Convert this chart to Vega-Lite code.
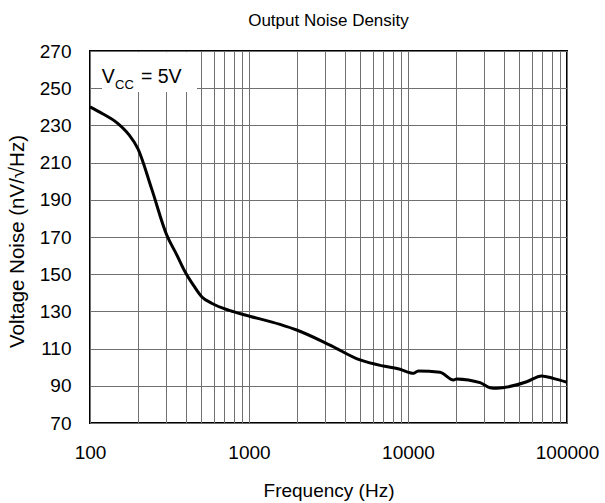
{
  "$schema": "https://vega.github.io/schema/vega-lite/v6.json",
  "width": 477,
  "height": 372,
  "autosize": {"type": "none"},
  "padding": {"left": 90, "top": 51, "right": 38, "bottom": 80},
  "background": "white",
  "title": {"text": "Output Noise Density", "font": "Liberation Sans", "fontSize": 17, "fontWeight": "normal", "color": "black", "offset": 12, "anchor": "middle"},
  "config": {
    "view": {"stroke": "black", "strokeWidth": 2},
    "axis": {"labelFont": "Liberation Sans", "titleFont": "Liberation Sans", "labelColor": "black", "titleColor": "black", "titleFontWeight": "normal", "labelFontSize": 19, "titleFontSize": 19, "domain": false, "ticks": false, "grid": true, "gridColor": "#707070", "gridWidth": 1, "gridOpacity": 1}
  },
  "encoding": {
    "x": {"field": "f", "type": "quantitative",
      "scale": {"type": "log", "domain": [100, 100000], "nice": false},
      "axis": {"title": "Frequency (Hz)", "titleX": 238.5, "titleY": 67, "titleBaseline": "middle",
        "values": [100,200,300,400,500,600,700,800,900,1000,2000,3000,4000,5000,6000,7000,8000,9000,10000,20000,30000,40000,50000,60000,70000,80000,90000,100000],
        "labelExpr": "indexof([100,1000,10000,100000], datum.value) >= 0 ? format(datum.value, 'd') : ''",
        "labelOverlap": false, "labelBound": false, "labelFlush": false, "labelPadding": 20}},
    "y": {"field": "v", "type": "quantitative",
      "scale": {"domain": [70, 270], "nice": false, "zero": false},
      "axis": {"title": "Voltage Noise (nV/√Hz)", "titleFontSize": 20.5, "titleX": -73, "titleY": 190, "titleAngle": -90, "titleBaseline": "middle", "titleAlign": "center",
        "values": [70,90,110,130,150,170,190,210,230,250,270], "labelPadding": 19, "labelOverlap": false, "labelBound": false, "labelFlush": false}}
  },
  "layer": [
    {
      "data": {"values": [
        {"f": 100, "v": 240}, {"f": 120, "v": 236.3}, {"f": 150, "v": 231}, {"f": 175, "v": 225.2},
        {"f": 200, "v": 217.5}, {"f": 244, "v": 196}, {"f": 304, "v": 171}, {"f": 350, "v": 160.7},
        {"f": 396, "v": 151.3}, {"f": 450, "v": 143.7}, {"f": 504, "v": 137.9}, {"f": 582, "v": 134.4},
        {"f": 760, "v": 130.4}, {"f": 944, "v": 128.1}, {"f": 1567, "v": 123}, {"f": 1995, "v": 120},
        {"f": 3230, "v": 111.9}, {"f": 4990, "v": 103.9}, {"f": 6995, "v": 100.6}, {"f": 8900, "v": 98.9},
        {"f": 10300, "v": 97}, {"f": 10800, "v": 96.7}, {"f": 11600, "v": 98}, {"f": 15900, "v": 97.3},
        {"f": 19300, "v": 93.1}, {"f": 20250, "v": 93.7}, {"f": 28400, "v": 91.7}, {"f": 32800, "v": 89},
        {"f": 36100, "v": 88.7}, {"f": 55800, "v": 92.2}, {"f": 69300, "v": 95.3}, {"f": 82000, "v": 94},
        {"f": 100000, "v": 91.9}
      ]},
      "mark": {"type": "line", "color": "black", "strokeWidth": 3, "interpolate": "monotone"}
    },
    {
      "data": {"values": [{"f": 119, "f2": 471, "v": 248, "v2": 269.3}]},
      "mark": {"type": "rect", "color": "white"},
      "encoding": {
        "x2": {"field": "f2"},
        "y2": {"field": "v2"}
      }
    },
    {
      "data": {"values": [{"f": 118.5, "v": 252.6, "t": "V"}, {"f": 209, "v": 252.6, "t": "= 5V"}]},
      "mark": {"type": "text", "font": "Liberation Sans", "fontSize": 19.5, "align": "left", "baseline": "alphabetic", "color": "black"},
      "encoding": {"text": {"field": "t"}}
    },
    {
      "data": {"values": [{"f": 143.6, "v": 249.7, "t": "CC"}]},
      "mark": {"type": "text", "font": "Liberation Sans", "fontSize": 13, "align": "left", "baseline": "alphabetic", "color": "black"},
      "encoding": {"text": {"field": "t"}}
    }
  ]
}
